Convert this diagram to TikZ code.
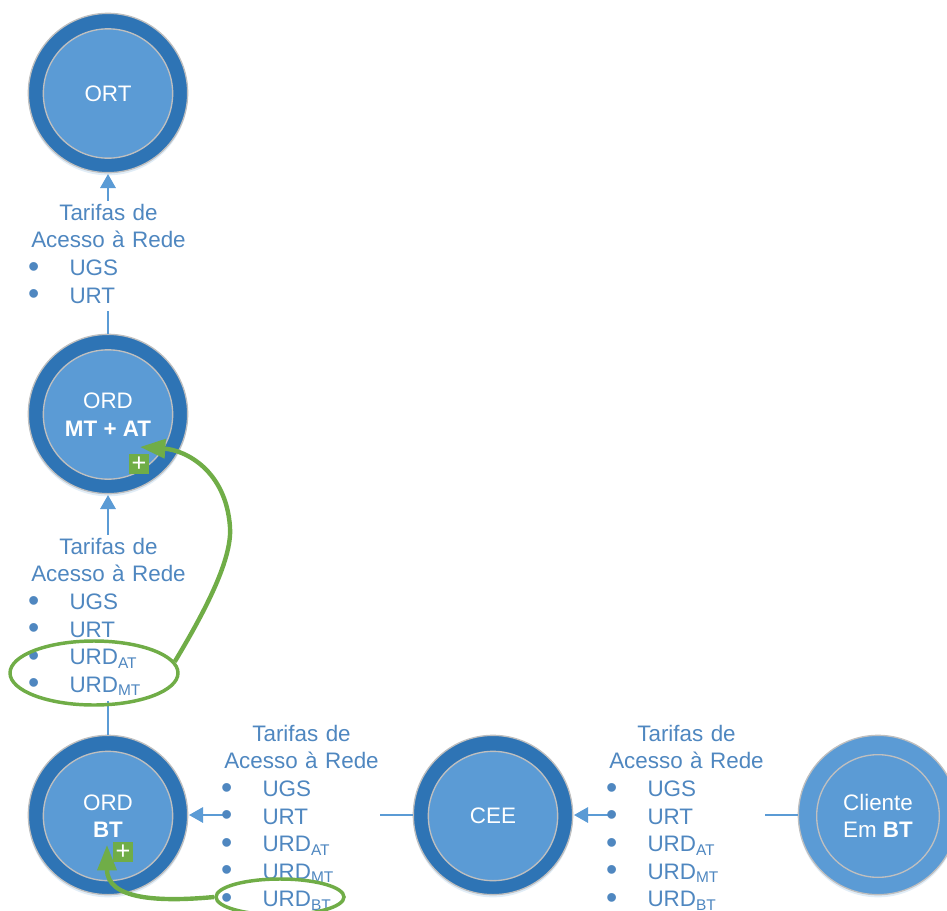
\documentclass[tikz,border=0pt]{standalone}
\usepackage{fontspec}
\setmainfont{Liberation Sans}
\usetikzlibrary{arrows.meta,shapes.geometric,shadows}
\definecolor{ringdark}{HTML}{2E74B5}
\definecolor{discblue}{HTML}{5B9BD5}
\definecolor{rimgrey}{HTML}{BFBFBF}
\definecolor{labelblue}{HTML}{4F87C0}
\definecolor{accgreen}{HTML}{70AD47}
\newcommand{\tarhead}{\centering\strut Tarifas de\\\strut Acesso à Rede\par}
\newcommand{\bitem}[1]{\raggedright\strut\makebox[39\pxu][l]{\hspace{-2.5\pxu}\raisebox{-1.6\pxu}{\fontsize{24}{24}\selectfont •}}#1\par}
\newcommand{\subt}[1]{\raisebox{-3.6\pxu}{\fontsize{11.6}{11.6}\selectfont #1}}
\newlength{\pxu}\setlength{\pxu}{0.75pt}
\tikzset{
  outerdisc/.style={circle,draw=rimgrey,line width=1pt,fill=ringdark,minimum size=119.5pt,inner sep=0pt,
    drop shadow={shadow xshift=0pt,shadow yshift=-2pt,opacity=.18,fill=discblue}},
  clientdisc/.style={outerdisc,fill=discblue},
  innerdisc/.style={circle,draw=rimgrey,line width=1pt,fill=discblue,minimum size=97pt,inner sep=0pt,
    text=white,align=center,font=\fontsize{16.8}{20.7}\selectfont},
  clientinner/.style={innerdisc,minimum size=92pt},
  flow/.style={draw=discblue,line width=1.5pt,-{Triangle[length=10.5pt,width=11.5pt]},shorten >=0.5pt},
  tarifa/.style={fill=white,inner sep=0pt,outer sep=0pt,anchor=north,text width=117pt,text=labelblue,
    font=\fontsize{16.8}{20.7}\selectfont},
  marker/.style={ellipse,draw=accgreen,line width=2.6pt,inner sep=0pt},
  pull/.style={draw=accgreen,line width=3.3pt,-{Triangle[length=19pt,width=14pt]}},
  plusbox/.style={fill=accgreen,minimum size=14.6pt,inner sep=0pt,text=white,font=\fontsize{19}{19}\selectfont},
}
\begin{document}
\begin{tikzpicture}[x=0.75pt,y=-0.75pt]
\useasboundingbox (0,0) rectangle (947,911);
% discs
\node[outerdisc] (ortO) at (108,93) {};
\node[outerdisc] (maO) at (108,414) {};
\node[outerdisc] (btO) at (108,815) {};
\node[outerdisc] (ceeO) at (493,815) {};
\node[clientdisc] (cliO) at (878,815) {};
% connectors
\draw[flow] (maO.north) -- (ortO.south);
\draw[flow] (btO.north) -- (maO.south);
\draw[flow] (ceeO.west) -- (btO.east);
\draw[flow] (cliO.west) -- (ceeO.east);
% inner discs
\node[innerdisc] (ort) at (108,93.5) {ORT};
\node[innerdisc] (ma) at (108,414.5) {ORD\\\textbf{MT + AT}};
\node[innerdisc] (bt) at (108,816) {ORD\\\textbf{BT}};
\node[innerdisc] (cee) at (493,816) {CEE};
\node[clientinner] (cli) at (878,816) {Cliente\\Em \textbf{BT}};
% labels
\node[tarifa] (l1) at (108.5,201) {\tarhead\bitem{UGS}\bitem{URT}};
\node[tarifa] (l2) at (108.5,535) {\tarhead\bitem{UGS}\bitem{URT}\bitem{URD\subt{AT}}\bitem{URD\subt{MT}}};
\node[tarifa] (l3) at (301.5,722) {\tarhead\bitem{UGS}\bitem{URT}\bitem{URD\subt{AT}}\bitem{URD\subt{MT}}\bitem{URD\subt{BT}}};
\node[tarifa] (l4) at (686.5,722) {\tarhead\bitem{UGS}\bitem{URT}\bitem{URD\subt{AT}}\bitem{URD\subt{MT}}\bitem{URD\subt{BT}}};
% plus boxes
\node[plusbox] (p1) at (139,464) {+};
\node[plusbox] (p2) at (123,852) {+};
% markers
\node[marker,minimum width=126pt,minimum height=48pt] (e1) at (94,673) {};
\node[marker,minimum width=96pt,minimum height=27pt] (e2) at (280,897) {};
% pulls
\coordinate (t1) at (140,447);
\coordinate (t2) at (107,845);
\draw[pull] (e1.8) .. controls (212,600) and (232,555) .. (230,527) .. controls (226,470) and (185,450) .. (t1);
\draw[pull] (e2.west) .. controls (160,902) and (107,900) .. (t2);
\end{tikzpicture}
\end{document}
